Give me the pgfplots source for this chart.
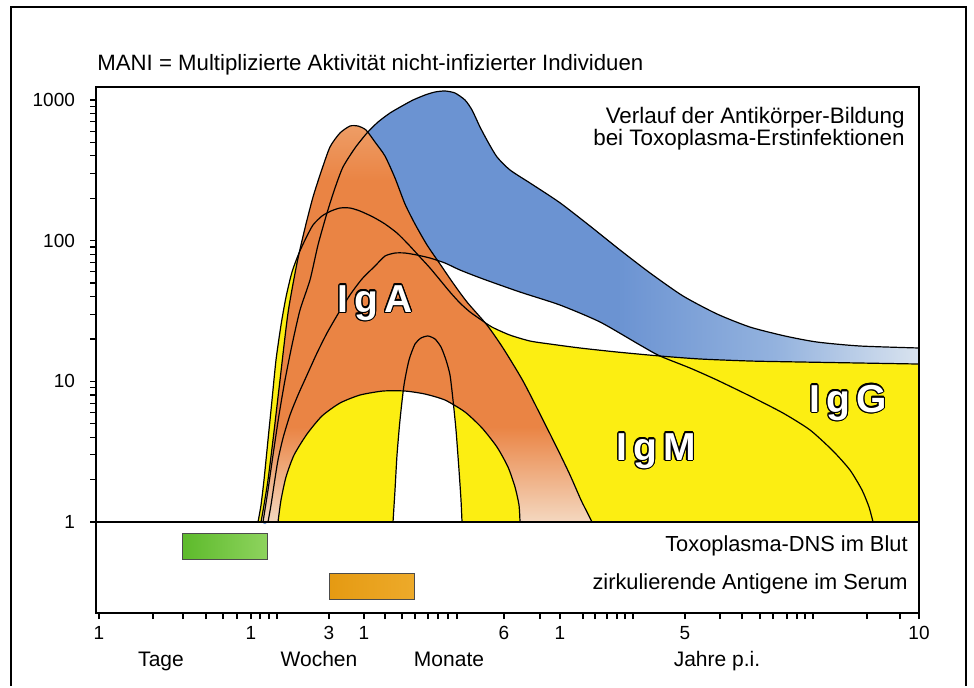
\documentclass[border=0pt]{standalone}
\usepackage{pgfplots}
\pgfplotsset{compat=1.18}
\usepackage{fontspec}
\setmainfont{Liberation Sans}
\usepackage[copies]{contour}
\contourlength{0.55pt}
\definecolor{bA}{HTML}{6B93D2}
\definecolor{bB}{HTML}{93B2DE}
\definecolor{bC}{HTML}{D9E3EF}
\definecolor{oL}{HTML}{F4D8C0}
\definecolor{oM}{HTML}{EA8444}
\definecolor{oT}{HTML}{EE9D66}
\definecolor{yel}{HTML}{FCEE12}
\definecolor{gA}{HTML}{5DBA2B}
\definecolor{gB}{HTML}{8ED35E}
\definecolor{aA}{HTML}{E59A12}
\definecolor{aB}{HTML}{EDAA2A}
\pgfdeclarehorizontalshading{blueshade}{100bp}{color(0bp)=(bA); color(25bp)=(bA); color(52bp)=(bA); color(64bp)=(bB); color(75bp)=(bC); color(100bp)=(bC)}
\pgfdeclareverticalshading{igashade}{100bp}{color(0bp)=(oL); color(25bp)=(oL); color(37bp)=(oM); color(68bp)=(oM); color(75bp)=(oT); color(100bp)=(oT)}
\newcommand{\lab}[1]{\textcolor{white}{\contour{black}{#1}}}
\begin{document}
\begin{tikzpicture}
\begin{axis}[
  at={(48pt,-306.5pt)}, anchor=south west,
  scale only axis, width=411.5pt, height=263pt,
  xmin=96, xmax=919, ymode=log, ymin=0.2256, ymax=1235,
  axis on top,
  axis line style={line width=0.9pt},
  tick align=outside, xtick pos=left, ytick pos=left,
  major tick length=3pt, minor tick length=3pt,
  tick style={black, line width=0.6pt},
  xtick={99,251,329,364,504,560,685,919},
  xticklabels={1,1,3,1,6,1,5,10},
  minor xtick={153,183,206,223,237,260,269,277,385,402,415,428,438,448,457,540,583,595,607,617,625,633,720,742,760,773,787,797,805,813,867,900},
  ytick={1,10,100,1000}, yticklabels={1,10,100,1000},
  minor ytick={2,3,4,5,6,7,8,9,20,30,40,50,60,70,80,90,200,300,400,500,600,700,800,900},
  tick label style={font=\fontsize{9.5}{11}\selectfont},
  yticklabel style={xshift=-4pt},
  /pgf/number format/assume math mode=true,
]
% blue band
\addplot[draw=none, shade, shading=blueshade, smooth, tension=0.4] coordinates {
(919,13.27) (860,13.49) (800,13.72) (750,13.94) (700,14.41) (660,15.13)
(640,18.11) (600,26.4) (560,34.85) (520,43.1) (483,53.4) (460,61.8) (445,69.3) (430,75.2) (417,79.0) (405,81.6) (395,81.6) (385,77.7) (375,66.0) (362,53.4) (350,41.1) (338,30.1) (327,22.04) (317,15.89) (307,11.08) (298,7.99) (290,5.76) (283,3.95) (278,2.76) (274,1.83) (271,1.32) (268,1)
(263,1) (268,1.688) (273,2.99) (279,5.76) (285,10.21) (292,18.11) (300,32.1) (310,52.5) (318,93.1) (327,157.1) (335,236.5) (343,333.6) (355,455) (367,582) (378,696) (390,807) (402,905) (413,998) (425,1083) (435,1138) (445,1157) (455,1119) (465,998) (472,848) (480,642) (488,502) (497,393) (510,317.6) (530,256.7) (550,207.5) (563,179.1) (590,127) (620,85.8) (650,58.9) (683,40.4) (717,30.1) (750,24.3) (785,20.99) (817,19.02) (860,17.82) (919,17.25)};
% IgG yellow
\addplot[draw=none, fill=yel, smooth, tension=0.4] coordinates {
(258,1) (261,1.32) (264,1.99) (268,3.83) (272,7.36) (276,14.17) (281,25.1) (286,39.7) (292,59.8) (299,81.6) (306,104.3) (313,129.1) (322,149.6) (331,162.3) (340,170.5) (350,170.5) (360,162.3) (373,147.2) (385,131.2) (397,113.2) (408,94.6) (420,76.4) (430,63.9) (440,52.5) (450,43.1) (460,36.0) (470,31.1) (480,27.7) (492,24.3) (510,21.3) (530,19.34) (550,18.41) (580,17.25) (617,16.15) (660,15.13) (700,14.41) (750,13.94) (800,13.72) (860,13.49) (919,13.27)} -- (axis cs:919,1) -- cycle;
% IgA orange
\addplot[draw=none, shade, shading=igashade, smooth, tension=0.4] coordinates {
(261,1) (264,1.32) (268,1.99) (273,3.83) (280,10.2) (288,30.6) (297,69.3) (305,122.9) (313,204) (321,307) (330,463) (340,582) (350,652) (358,652) (366,611) (375,502) (385,399) (395,278.6) (405,182) (415,131.2) (427,93.1) (440,68.2) (453,49.96) (467,36.6) (487,25.1) (503,17.25) (523,10.05) (543,5.31) (558,3.25) (570,2.16) (581,1.433) (587,1.178) (592,1)};
% dome yellow
\addplot[draw=none, fill=yel, smooth, tension=0.4] coordinates {
(278,1) (281,1.433) (286,2.09) (294,2.99) (307,4.22) (322,5.67) (340,7.01) (360,7.99) (383,8.53) (405,8.53) (425,8.12) (445,7.36) (465,6.05) (482,4.66) (497,3.41) (508,2.46) (515,1.774) (519,1.32) (520,1)};
% white intersection
\addplot[draw=none, fill=white] coordinates {
(393,1) (395,1.688) (397,2.99) (400,5.31) (403,8.39) (405,8.53) (425,8.12) (445,7.36) (454,6.7) (456,4.51) (459,2.34) (461,1.433) (462,1)};
% outlines
\addplot[black, line width=0.6pt, smooth, tension=0.4] coordinates {
(263,1) (268,1.688) (273,2.99) (279,5.76) (285,10.21) (292,18.11) (300,32.1) (310,52.5) (318,93.1) (327,157.1) (335,236.5) (343,333.6) (355,455) (367,582) (378,696) (390,807) (402,905) (413,998) (425,1083) (435,1138) (445,1157) (455,1119) (465,998) (472,848) (480,642) (488,502) (497,393) (510,317.6) (530,256.7) (550,207.5) (563,179.1) (590,127) (620,85.8) (650,58.9) (683,40.4) (717,30.1) (750,24.3) (785,20.99) (817,19.02) (860,17.82) (919,17.25)};
\addplot[black, line width=0.6pt, smooth, tension=0.4] coordinates {
(268,1) (271,1.32) (274,1.83) (278,2.76) (283,3.95) (290,5.76) (298,7.99) (307,11.08) (317,15.89) (327,22.04) (338,30.1) (350,41.1) (362,53.4) (375,66.0) (385,77.7) (395,81.6) (405,81.6) (417,79.0) (430,75.2) (445,69.3) (460,61.8) (483,53.4) (520,43.1) (560,34.85) (600,26.4) (640,18.11) (660,15.13) (690,12.43) (717,10.21) (750,7.86) (783,5.95) (810,4.51) (833,3.20) (850,2.34) (862,1.688) (869,1.278) (873,1)};
\addplot[black, line width=0.6pt, smooth, tension=0.4] coordinates {
(258,1) (261,1.32) (264,1.99) (268,3.83) (272,7.36) (276,14.17) (281,25.1) (286,39.7) (292,59.8) (299,81.6) (306,104.3) (313,129.1) (322,149.6) (331,162.3) (340,170.5) (350,170.5) (360,162.3) (373,147.2) (385,131.2) (397,113.2) (408,94.6) (420,76.4) (430,63.9) (440,52.5) (450,43.1) (460,36.0) (470,31.1) (480,27.7) (492,24.3) (510,21.3) (530,19.34) (550,18.41) (580,17.25) (617,16.15) (660,15.13) (700,14.41) (750,13.94) (800,13.72) (860,13.49) (919,13.27)};
\addplot[black, line width=0.6pt, smooth, tension=0.4] coordinates {
(261,1) (264,1.32) (268,1.99) (273,3.83) (280,10.2) (288,30.6) (297,69.3) (305,122.9) (313,204) (321,307) (330,463) (340,582) (350,652) (358,652) (366,611) (375,502) (385,399) (395,278.6) (405,182) (415,131.2) (427,93.1) (440,68.2) (453,49.96) (467,36.6) (487,25.1) (503,17.25) (523,10.05) (543,5.31) (558,3.25) (570,2.16) (581,1.433) (587,1.178) (592,1)};
\addplot[black, line width=0.6pt, smooth, tension=0.4] coordinates {
(278,1) (281,1.433) (286,2.09) (294,2.99) (307,4.22) (322,5.67) (340,7.01) (360,7.99) (383,8.53) (405,8.53) (425,8.12) (445,7.36) (465,6.05) (482,4.66) (497,3.41) (508,2.46) (515,1.774) (519,1.32) (520,1)};
\addplot[black, line width=0.6pt, smooth, tension=0.4] coordinates {
(393,1) (395,1.688) (397,2.99) (400,5.31) (404,9.41) (409,14.17) (415,18.41) (421,20.31) (428,20.99) (435,19.98) (441,17.53) (446,14.17) (450,11.08) (453,7.36) (456,4.51) (459,2.34) (461,1.433) (462,1)};
% bars in lower band
\addplot[draw=black!70, line width=0.4pt, left color=gA, right color=gB] coordinates {(182,0.835) (267,0.835) (267,0.546) (182,0.546) (182,0.835)};
\addplot[draw=black!70, line width=0.4pt, left color=aA, right color=aB] coordinates {(329,0.434) (414,0.434) (414,0.2836) (329,0.2836) (329,0.434)};
\draw[line width=0.9pt] (axis cs:96,1) -- (axis cs:919,1);
\end{axis}
\begin{scope}[x=0.5pt,y=-0.5pt]
\path (0,0) rectangle (974,686);
\draw[line width=1.3pt] (11,686) -- (11,7) -- (966,7) -- (966,686);
\node[anchor=base west, inner sep=0, font=\fontsize{11.1}{13}\selectfont] at (97,70) {MANI = Multiplizierte Aktivität nicht-infizierter Individuen};
\node[anchor=base east, inner sep=0, font=\fontsize{11.2}{13}\selectfont] at (905,123) {Verlauf der Antikörper-Bildung};
\node[anchor=base east, inner sep=0, font=\fontsize{11.2}{13}\selectfont] at (905,145) {bei Toxoplasma-Erstinfektionen};
\node[anchor=base east, inner sep=0, font=\fontsize{10.9}{13}\selectfont] at (908,551) {Toxoplasma-DNS im Blut};
\node[anchor=base east, inner sep=0, font=\fontsize{10.9}{13}\selectfont] at (908,589) {zirkulierende Antigene im Serum};
\node[anchor=base, inner sep=0, font=\fontsize{10.5}{12}\selectfont] at (161,666) {Tage};
\node[anchor=base, inner sep=0, font=\fontsize{10.5}{12}\selectfont] at (319,666) {Wochen};
\node[anchor=base, inner sep=0, font=\fontsize{10.5}{12}\selectfont] at (449,666) {Monate};
\node[anchor=base, inner sep=0, font=\fontsize{10.5}{12}\selectfont] at (717,666) {Jahre p.i.};
\node[anchor=base, inner sep=0, font=\fontsize{19.5}{20}\selectfont\bfseries] at (375,312) {\lab{I\kern3pt g\kern3pt A}};
\node[anchor=base, inner sep=0, font=\fontsize{19.5}{20}\selectfont\bfseries] at (656,460) {\lab{I\kern3pt g\kern3pt M}};
\node[anchor=base, inner sep=0, font=\fontsize{19.5}{20}\selectfont\bfseries] at (848,412) {\lab{I\kern3pt g\kern3pt G}};
\end{scope}
\end{tikzpicture}
\end{document}
